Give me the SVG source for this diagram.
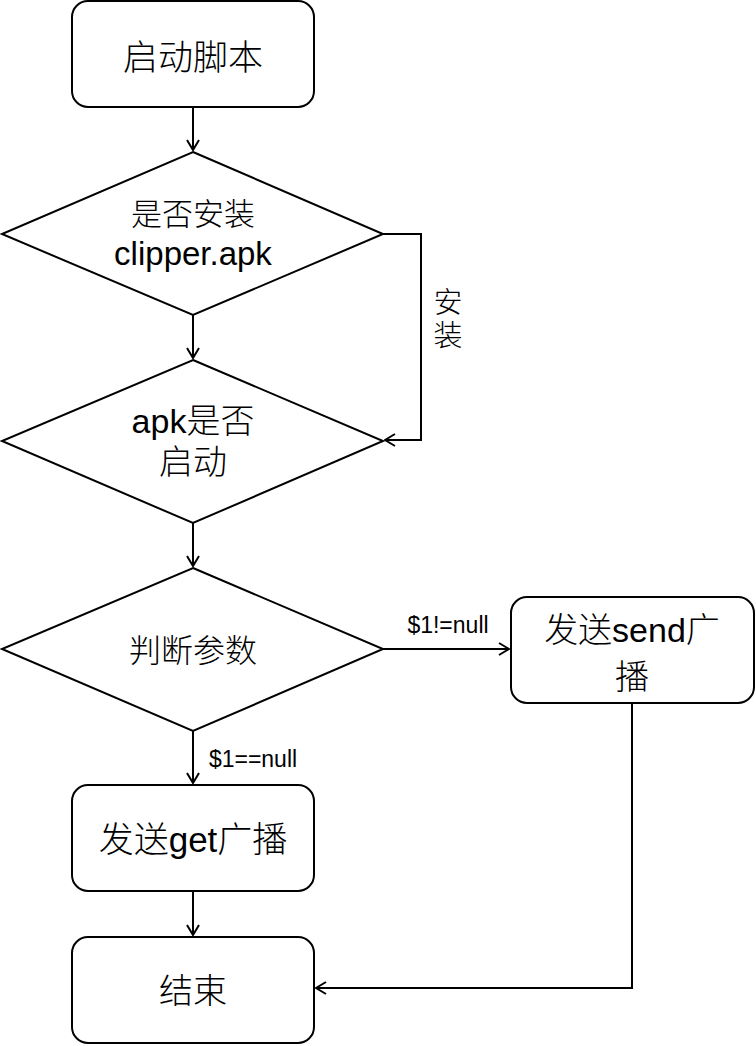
<svg xmlns="http://www.w3.org/2000/svg" width="756" height="1046" viewBox="0 0 756 1046">
<defs>
<marker id="arr" markerWidth="12" markerHeight="14" refX="11" refY="7" orient="auto" markerUnits="userSpaceOnUse">
<path d="M1,1 L11,7 L1,13" fill="none" stroke="#000" stroke-width="2"/>
</marker>
<style>
.shape{fill:#fff;stroke:#000;stroke-width:2}
.edge{fill:none;stroke:#000;stroke-width:2}
text{font-family:"Liberation Sans","Noto Sans CJK SC",sans-serif;fill:#000;text-anchor:middle}
.cjk{font-weight:300}
</style>
</defs>
<g id="connectors">
<path class="edge" d="M193,107 L193,150" marker-end="url(#arr)"/>
<path class="edge" d="M193,315 L193,358" marker-end="url(#arr)"/>
<path class="edge" d="M383,234 L421,234 L421,440 L385,440" marker-end="url(#arr)"/>
<path class="edge" d="M193,523 L193,566" marker-end="url(#arr)"/>
<path class="edge" d="M383,649 L509,649" marker-end="url(#arr)"/>
<path class="edge" d="M193,731 L193,783" marker-end="url(#arr)"/>
<path class="edge" d="M193,891 L193,935" marker-end="url(#arr)"/>
<path class="edge" d="M632,703 L632,988 L316,988" marker-end="url(#arr)"/>
<text x="448" y="313" font-size="29" class="cjk">安</text>
<text x="448" y="346" font-size="29" class="cjk">装</text>
<text x="448" y="633" font-size="23">$1!=null</text>
<text x="253" y="767" font-size="23">$1==null</text>
</g>
<g id="start">
<rect class="shape" x="72" y="1" width="242" height="106" rx="16"/>
<text x="193" y="70" font-size="35" class="cjk">启动脚本</text>
</g>
<g id="check-install">
<polygon class="shape" points="193,152 383,234 193,315 2,234"/>
<text x="193" y="225" font-size="31" class="cjk">是否安装</text>
<text x="193" y="265" font-size="33">clipper.apk</text>
</g>
<g id="check-start">
<polygon class="shape" points="193,360 383,441 193,523 2,441"/>
<text x="193" y="433" font-size="34" class="cjk">apk是否</text>
<text x="193" y="474" font-size="34" class="cjk">启动</text>
</g>
<g id="check-param">
<polygon class="shape" points="193,568 383,649 193,731 2,649"/>
<text x="193" y="662" font-size="32" class="cjk">判断参数</text>
</g>
<g id="send">
<rect class="shape" x="511" y="597" width="243" height="106" rx="16"/>
<text x="632" y="642" font-size="34" class="cjk">发送send广</text>
<text x="632" y="689" font-size="34" class="cjk">播</text>
</g>
<g id="get">
<rect class="shape" x="72" y="785" width="242" height="106" rx="16"/>
<text x="193" y="852" font-size="35" class="cjk">发送get广播</text>
</g>
<g id="end">
<rect class="shape" x="72" y="937" width="242" height="106" rx="16"/>
<text x="193" y="1003" font-size="34" class="cjk">结束</text>
</g>
</svg>
